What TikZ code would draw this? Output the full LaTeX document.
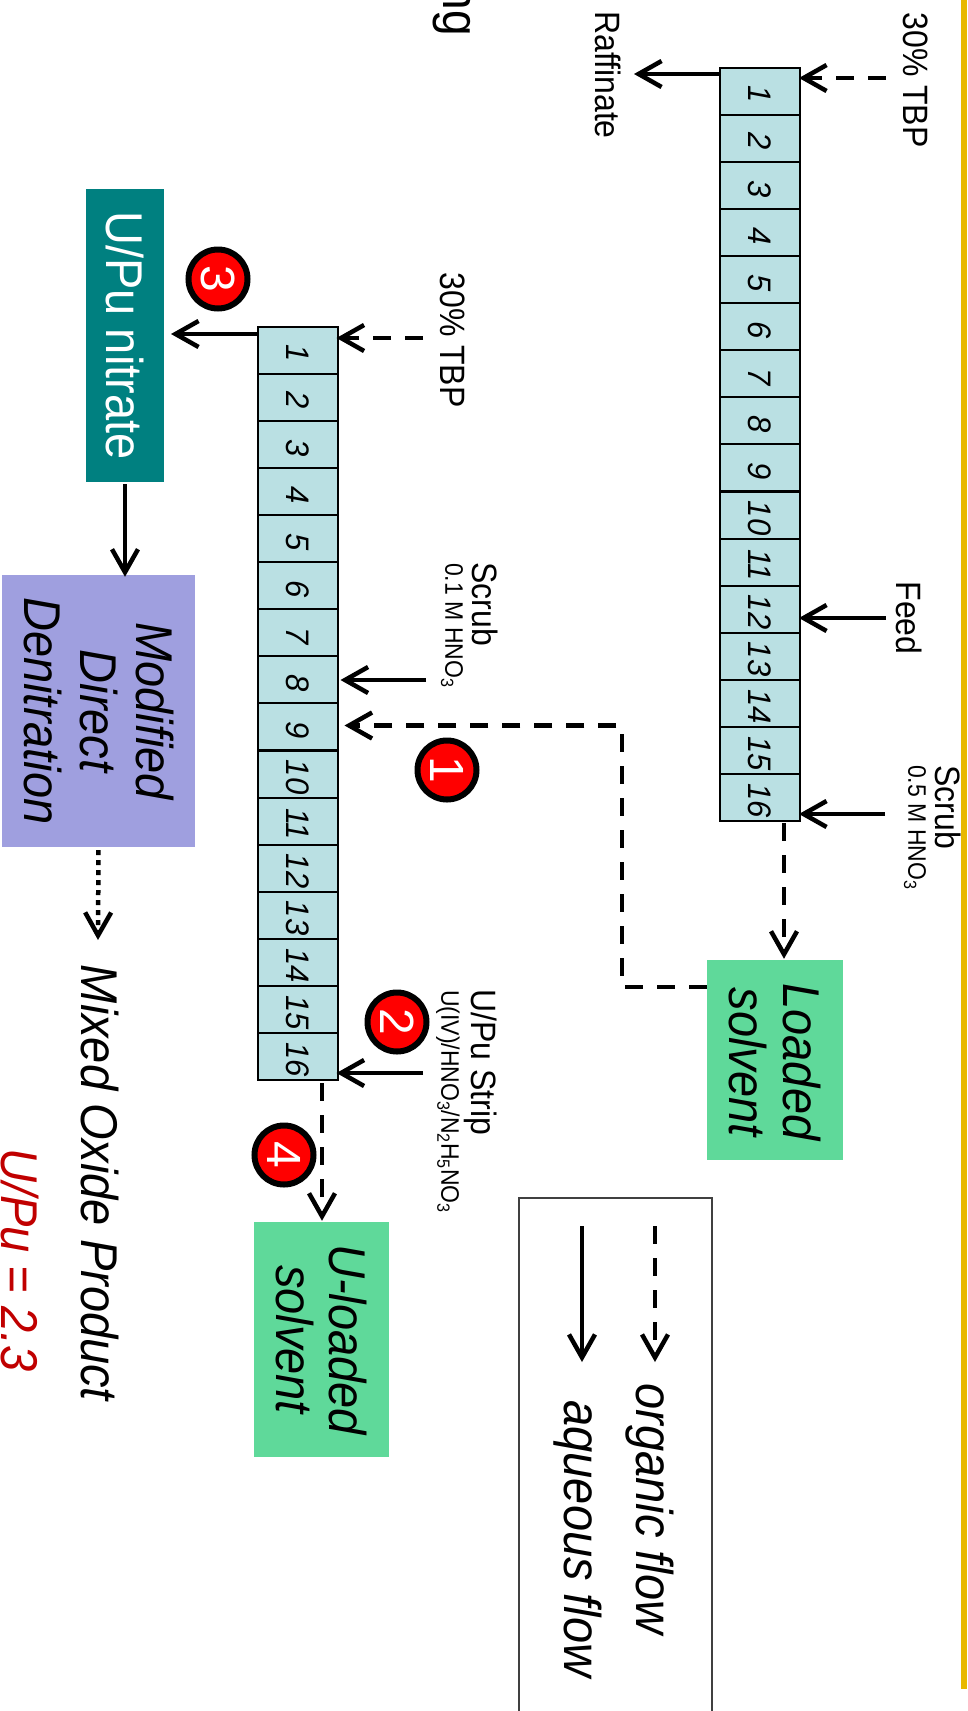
\documentclass[tikz,border=0pt]{standalone}
\usepackage{fontspec}
\setmainfont{Liberation Sans}
\usepackage{xcolor}
\usetikzlibrary{arrows.meta,positioning}
\definecolor{stagefill}{HTML}{BAE0E3}
\definecolor{solventgreen}{HTML}{5FD99A}
\definecolor{nitrateteal}{HTML}{008080}
\definecolor{denitblue}{HTML}{9F9FDF}
\definecolor{badgered}{HTML}{FF0000}
\definecolor{ratiored}{HTML}{C00000}
\definecolor{railgold}{HTML}{E8B800}
\newcommand{\fsize}[1]{\fontsize{#1}{#1}\selectfont}
\tikzset{
  sidetext/.style={rotate=-90,yscale=1.1,inner sep=0pt,align=left,
                   font=\fsize{32}},
  subtext/.style={sidetext,font=\fsize{23}},
  bigtext/.style={rotate=-90,yscale=1.1,inner sep=0pt,align=center,
                  font=\fontsize{47}{49}\selectfont\itshape},
  stagebox/.style={draw=black,fill=stagefill,line width=2pt,
                   minimum width=80pt,minimum height=47pt,inner sep=0pt},
  stagenum/.style={rotate=-90,yscale=1.05,inner sep=0pt,font=\fsize{31}\itshape},
  solventbox/.style={fill=solventgreen,inner sep=0pt},
  badge/.style={circle,draw=black,fill=badgered,line width=6pt,
                minimum size=59pt,inner sep=0pt,text=white,
                font=\fsize{48}},
  aqarr/.style={-{Straight Barb[length=23pt,width=26pt]},line width=4.5pt,
                shorten >=-2pt},
  orgarr/.style={aqarr,dash pattern=on 18pt off 14pt},
  dotarr/.style={aqarr,dash pattern=on 5pt off 5pt}
}
\begin{document}
\begin{tikzpicture}[x=1pt,y=-1pt]
  \useasboundingbox (0,0) rectangle (967,1711);
  \fill[railgold] (961,0) rectangle (967,1689);

  % cut-off title at the top edge
  \node[rotate=-90,yscale=1.1,inner sep=0pt,font=\fsize{46},anchor=base east]
    (title) at (443,36) {ng};

  % first column
  \foreach \k in {1,...,16} {
    \node[stagebox] (a\k) at (760,{91.5+(\k-1)*47.06}) {};
    \node[stagenum] (an\k) at (760,{94.5+(\k-1)*47.06}) {\k};
  }
  % second column
  \foreach \k in {1,...,16} {
    \node[stagebox] (b\k) at (297.5,{350.5+(\k-1)*47.06}) {};
    \node[stagenum] (bn\k) at (297.5,{353.5+(\k-1)*47.06}) {\k};
  }

  % labels of the first column
  \node[sidetext] (raff) at (608,75) {Raffinate};
  \node[sidetext] (tbpa) at (916,80) {30\% TBP};
  \node[sidetext] (feed) at (909,618) {Feed};
  \node[sidetext,anchor=west] (scruba) at (948,765) {Scrub};
  \node[subtext,anchor=west] (scrubaconc) at (915,765) {0.5 M HNO\textsubscript{3}};

  % labels of the second column
  \node[sidetext] (tbpb) at (453,340) {30\% TBP};
  \node[sidetext,anchor=west] (scrubb) at (485,562) {Scrub};
  \node[subtext,anchor=west] (scrubbconc) at (452,563) {0.1 M HNO\textsubscript{3}};
  \node[sidetext,anchor=west] (strip) at (481,989) {U/Pu Strip};
  \node[subtext,anchor=west] (stripconc) at (448,990)
    {U(IV)/HNO\textsubscript{3}/N\textsubscript{2}H\textsubscript{5}NO\textsubscript{3}};

  % product boxes
  \node[solventbox,minimum width=136pt,minimum height=200pt] (loaded) at (775,1060) {};
  \node[bigtext] (loadedtxt) at (775,1062) {Loaded\\solvent};
  \node[solventbox,minimum width=135pt,minimum height=235pt] (uload) at (321.5,1339.5) {};
  \node[bigtext] (uloadtxt) at (uload) {U-loaded\\solvent};
  \node[fill=nitrateteal,minimum width=78pt,minimum height=293pt,inner sep=0pt] (nitrate) at (125,335.5) {};
  \node[bigtext,text=white,font=\fsize{47}] (nitratetxt) at (nitrate) {U/Pu nitrate};
  \node[fill=denitblue,minimum width=193pt,minimum height=272pt,inner sep=0pt] (denit) at (98.5,711) {};
  \node[bigtext,font=\fontsize{47}{51}\selectfont\itshape] (denittxt) at (99,711) {Modified\\Direct\\Denitration};
  \node[bigtext] (mixed) at (100,1183) {Mixed Oxide Product};
  \node[bigtext,text=ratiored] (ratio) at (20,1260) {U/Pu = 2.3};

  % free ends of the flows
  \coordinate (tbpaend) at (886,78);
  \coordinate (feedend) at (886,618);
  \coordinate (scrubaend) at (885,814);
  \coordinate (tbpbend) at (423,338);
  \coordinate (scrubbend) at (426,680);
  \coordinate (stripend) at (423,1073);
  \coordinate (raffend) at (636,74);
  \coordinate (raffstart) at (720,74);
  \coordinate (ntstart) at (258,334);
  \coordinate (ntend) at (173,334);
  \coordinate (loadout) at (784,823);
  \coordinate (uloadout) at (322,1083);
  \coordinate (cornera) at (622,987);
  \coordinate (cornerb) at (622,725.5);
  \coordinate (mixedtip) at (98,938);

  % flows of the first column
  \draw[aqarr] (raffstart) -- (raffend);
  \draw[orgarr] (tbpaend) -- (tbpaend -| a1.east);
  \draw[aqarr] (feedend) -- (feedend -| a12.east);
  \draw[aqarr] (scrubaend) -- (scrubaend -| a16.east);
  \draw[orgarr,shorten >=1pt] (loadout) -- (loadout |- loaded.north);
  \draw[orgarr,shorten >=6pt] (cornera -| loaded.west) -- (cornera) -- (cornerb) -- (cornerb -| b9.east);

  % flows of the second column
  \draw[aqarr] (ntstart) -- (ntend);
  \draw[orgarr] (tbpbend) -- (tbpbend -| b1.east);
  \draw[aqarr,shorten >=2pt] (scrubbend) -- (scrubbend -| b8.east);
  \draw[aqarr] (stripend) -- (stripend -| b16.east);
  \draw[orgarr,shorten >=1pt] (uloadout) -- (uloadout |- uload.north);
  \draw[aqarr,shorten <=2pt] (nitrate.south) -- (denit.north -| nitrate.south);
  \draw[dotarr,shorten <=3pt] (denit.south) -- (mixedtip);

  % numbered badges
  \node[badge] (one) at (447,770) {\rotatebox{-90}{1}};
  \node[badge] (two) at (397,1022) {\rotatebox{-90}{2}};
  \node[badge] (three) at (218,279) {\rotatebox{-90}{3}};
  \node[badge] (four) at (284,1155) {\rotatebox{-90}{4}};

  % key
  \draw[draw=black!75,line width=2pt] (712,1730) |- (519,1198) -- (519,1730);
  \coordinate (orgkeya) at (655,1226);
  \coordinate (orgkeyb) at (655,1360);
  \coordinate (aqkeya) at (582,1226);
  \coordinate (aqkeyb) at (582,1360);
  \draw[orgarr] (orgkeya) -- (orgkeyb);
  \draw[aqarr] (aqkeya) -- (aqkeyb);
  \node[bigtext] (orgkey) at (650,1509) {organic flow};
  \node[bigtext] (aqkey) at (578,1539) {aqueous flow};
\end{tikzpicture}
\end{document}
